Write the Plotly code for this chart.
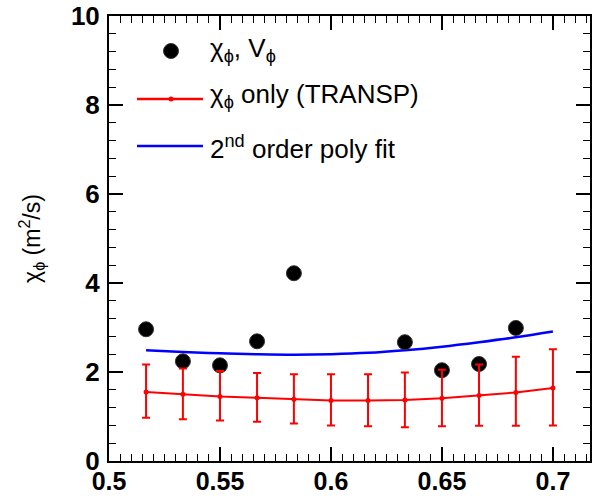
import plotly.graph_objects as go

# ---- data ----
x_meas = [0.5167, 0.5333, 0.55, 0.5667, 0.5833, 0.6333, 0.65, 0.6667, 0.6833]
chi_meas = [2.96, 2.24, 2.15, 2.69, 4.22, 2.67, 2.04, 2.18, 2.99]

x_transp = [0.5167, 0.5333, 0.55, 0.5667, 0.5833, 0.6, 0.6167, 0.6333, 0.65, 0.6667, 0.6833, 0.7]
chi_transp = [1.55, 1.50, 1.45, 1.42, 1.39, 1.36, 1.36, 1.37, 1.41, 1.47, 1.54, 1.64]
chi_transp_hi = [2.17, 2.08, 2.02, 1.98, 1.95, 1.95, 1.95, 1.99, 2.05, 2.17, 2.34, 2.51]
chi_transp_lo = [0.97, 0.94, 0.91, 0.88, 0.84, 0.80, 0.78, 0.76, 0.78, 0.79, 0.79, 0.80]

x_fit = [0.5167, 0.5333, 0.55, 0.5667, 0.5833, 0.6, 0.6167, 0.6333, 0.65, 0.6667, 0.6833, 0.7]
chi_fit = [2.49, 2.45, 2.42, 2.40, 2.39, 2.40, 2.43, 2.49, 2.57, 2.67, 2.78, 2.91]

x_ticks = [0.5, 0.55, 0.6, 0.65, 0.7]
y_ticks = [0, 2, 4, 6, 8, 10]

legend_labels = ["χ<sub>ϕ</sub>, V<sub>ϕ</sub>",
                 "χ<sub>ϕ</sub> only (TRANSP)",
                 "2<sup>nd</sup> order poly fit"]

err_plus = [h - v for h, v in zip(chi_transp_hi, chi_transp)]
err_minus = [v - l for v, l in zip(chi_transp, chi_transp_lo)]

FONT = "Liberation Sans, Arial, Helvetica, sans-serif"

fig = go.Figure()
fig.add_trace(go.Scatter(x=x_fit, y=chi_fit, mode="lines", line=dict(color="#0000ff", width=2.5, shape="spline"),
                         showlegend=False, hoverinfo="skip"))
fig.add_trace(go.Scatter(x=x_meas, y=chi_meas, mode="markers",
                         marker=dict(color="black", size=15, line=dict(color="#333333", width=1)),
                         showlegend=False))
fig.add_trace(go.Scatter(x=x_transp, y=chi_transp, mode="lines+markers",
                         line=dict(color="#ff0000", width=2),
                         marker=dict(color="#ff0000", size=5),
                         error_y=dict(type="data", symmetric=False, array=err_plus, arrayminus=err_minus,
                                      color="#ff0000", thickness=2, width=4),
                         showlegend=False))

# ---- manual legend (paper coords derived from plot-area pixels) ----
L, R, T, B = 109, 590, 16, 461
W, H = R - L, B - T
def px(xp):
    return (xp - L) / W
def py(yp):
    return (B - yp) / H

shapes = []
shapes.append(dict(type="circle", xref="paper", yref="paper", xsizemode="pixel", ysizemode="pixel",
                   xanchor=px(171), yanchor=py(51), x0=-7.5, x1=7.5, y0=-7.5, y1=7.5,
                   fillcolor="black", line=dict(color="#333333", width=1)))
shapes.append(dict(type="line", xref="paper", yref="paper", x0=px(137), x1=px(203), y0=py(99), y1=py(99),
                   line=dict(color="#ff0000", width=2.5)))
shapes.append(dict(type="circle", xref="paper", yref="paper", xsizemode="pixel", ysizemode="pixel",
                   xanchor=px(171), yanchor=py(99), x0=-2.5, x1=2.5, y0=-2.5, y1=2.5,
                   fillcolor="#ff0000", line=dict(color="#ff0000", width=0)))
shapes.append(dict(type="line", xref="paper", yref="paper", x0=px(137), x1=px(203), y0=py(146), y1=py(146),
                   line=dict(color="#0000ff", width=2.5)))

annotations = []
for lab, yy in zip(legend_labels, [49, 95, 147]):
    annotations.append(dict(text=lab, xref="paper", yref="paper", x=px(208), y=py(yy),
                            xanchor="left", yanchor="middle", showarrow=False,
                            font=dict(family=FONT, size=26, color="black")))

fig.update_layout(
    width=596, height=498,
    margin=dict(l=L, r=596 - R, t=T, b=498 - B, pad=0, autoexpand=False),
    paper_bgcolor="white", plot_bgcolor="white",
    font=dict(family=FONT, color="black"),
    shapes=shapes, annotations=annotations,
    showlegend=False,
)
axis_common = dict(showline=True, linecolor="black", linewidth=2, mirror="ticks",
                   ticks="inside", ticklen=14, tickwidth=1.5, tickcolor="black",
                   showgrid=False, zeroline=False, automargin=False)
fig.update_xaxes(range=[0.5, 0.7167], tickvals=x_ticks, ticktext=[f"{v:g}" for v in x_ticks],
                 ticklabelstandoff=-3,
                 tickfont=dict(family=FONT, size=25, color="black", weight="bold"),
                 minor=dict(ticks="inside", ticklen=7, dtick=0.005, tick0=0.5, tickwidth=1, tickcolor="black", showgrid=False),
                 **axis_common)
fig.update_yaxes(range=[0, 10], tickvals=y_ticks, ticktext=[str(v) for v in y_ticks],
                 ticklabelstandoff=2,
                 tickfont=dict(family=FONT, size=26, color="black", weight="bold"),
                 minor=dict(ticks="inside", ticklen=7, dtick=0.4, tick0=0, tickwidth=1, tickcolor="black", showgrid=False),
                 title=dict(text="χ<sub>ϕ</sub> (m<sup>2</sup>/s)", font=dict(family=FONT, size=23, color="black"), standoff=24),
                 **axis_common)

fig.write_html("out.html")
